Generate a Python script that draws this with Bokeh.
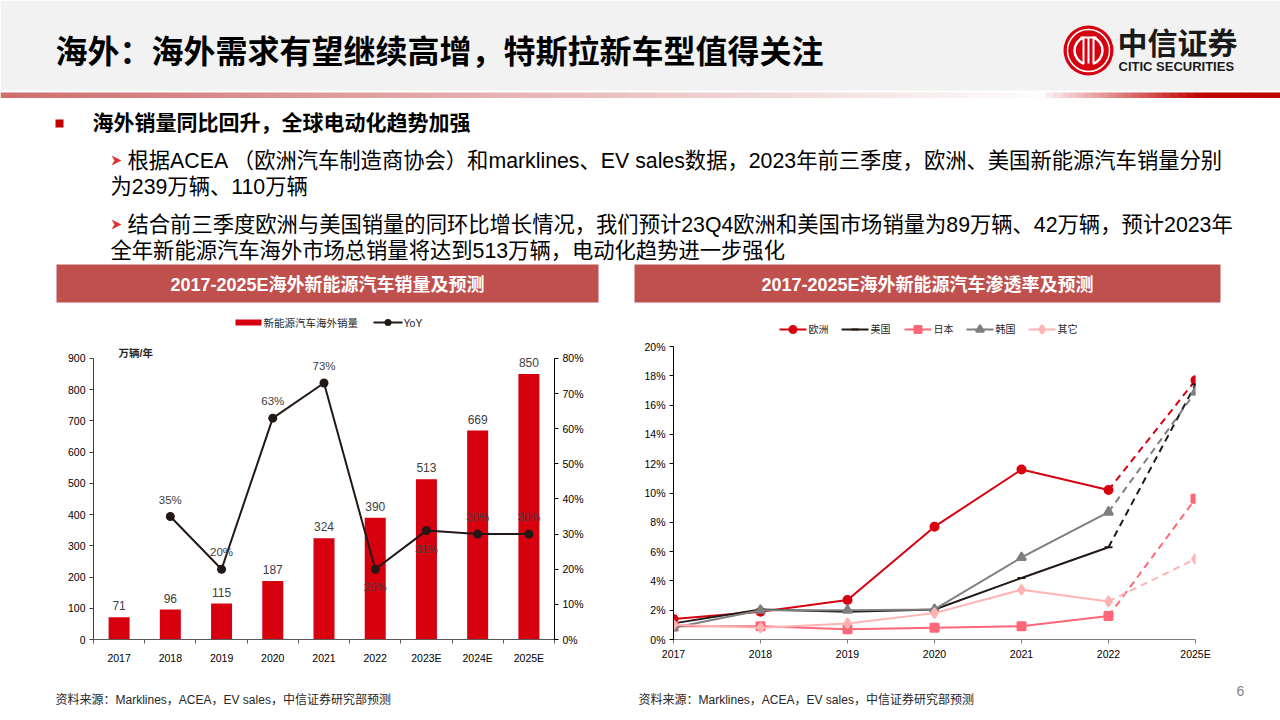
from bokeh.plotting import figure
from bokeh.models import Range1d, FixedTicker, LinearAxis, ColumnDataSource, LabelSet, Label, CustomJSTickFormatter
from bokeh.layouts import column, row
from bokeh.embed import file_html
from bokeh.resources import INLINE
from bokeh.core.properties import value

FONT = "Liberation Sans, Noto Sans CJK SC"

# ---------------- data ----------------
sales_years = ["2017", "2018", "2019", "2020", "2021", "2022", "2023E", "2024E", "2025E"]
sales = [71, 96, 115, 187, 324, 390, 513, 669, 850]          # 万辆/年
yoy_years = ["2018", "2019", "2020", "2021", "2022", "2023E", "2024E", "2025E"]
yoy = [35, 20, 63, 73, 20, 31, 30, 30]                       # %
yoy_label_side = ["above", "above", "above", "above", "below", "below", "above", "above"]

pen_years = ["2017", "2018", "2019", "2020", "2021", "2022", "2025E"]
pen_europe = [1.4, 1.9, 2.7, 7.7, 11.6, 10.2, 17.7]
pen_us = [1.1, 2.05, 1.9, 2.05, 4.2, 6.3, 17.4]
pen_japan = [0.9, 0.9, 0.7, 0.8, 0.9, 1.6, 9.6]
pen_korea = [0.8, 2.0, 2.0, 2.05, 5.6, 8.7, 16.9]
pen_other = [1.0, 0.8, 1.1, 1.8, 3.4, 2.6, 5.5]

series_names = ["欧洲", "美国", "日本", "韩国", "其它"]
series_values = [pen_europe, pen_us, pen_japan, pen_korea, pen_other]
series_colors = ["#D7000F", "#231815", "#FF6677", "#7F7F7F", "#FFB3B3"]
series_markers = ["circle", "dash", "square", "triangle", "diamond"]
series_msize = [8, 8, 8, 9, 10]

title = "海外：海外需求有望继续高增，特斯拉新车型值得关注"
headline = "海外销量同比回升，全球电动化趋势加强"
para1 = ["根据ACEA （欧洲汽车制造商协会）和marklines、EV  sales数据，2023年前三季度，欧洲、美国新能源汽车销量分别",
         "为239万辆、110万辆"]
para2 = ["结合前三季度欧洲与美国销量的同环比增长情况，我们预计23Q4欧洲和美国市场销量为89万辆、42万辆，预计2023年",
         "全年新能源汽车海外市场总销量将达到513万辆，电动化趋势进一步强化"]
chart1_title = "2017-2025E海外新能源汽车销量及预测"
chart2_title = "2017-2025E海外新能源汽车渗透率及预测"
bar_legend = "新能源汽车海外销量"
line_legend = "YoY"
unit_label = "万辆/年"
source_text = "资料来源：Marklines，ACEA，EV sales，中信证券研究部预测"
page_no = "6"


def blank(width, height, x0, x1, y0, y1):
    f = figure(width=width, height=height, x_range=Range1d(x0, x1), y_range=Range1d(y1, y0),
               toolbar_location=None, output_backend="svg", min_border=0,
               x_axis_type=None, y_axis_type=None)
    f.grid.visible = False
    f.outline_line_color = None
    return f


def txt(f, x, y, s, size, color="#000000", bold=False, align="left"):
    f.text(x=[x], y=[y], text=[s], text_font=value(FONT), text_font_size=size,
           text_font_style="bold" if bold else "normal", text_color=color,
           text_align=align, text_baseline="middle")


# ---------------- header (slide top) ----------------
ph = blank(1280, 338, 0, 1280, 0, 338)
ph.quad(left=0, right=1280, top=0, bottom=90, fill_color="#F2F2F2", line_color=None)

# gradient rule under the header
N = 70
for i in range(N):
    a = i / N
    l, r = a * 1045, (i + 1) / N * 1045 + 0.5
    c = tuple(int(v + (255 - v) * a) for v in (208, 110, 110))
    ph.quad(left=l, right=r, top=92, bottom=97.5, fill_color="#%02x%02x%02x" % c, line_color=None)
M = 30
for i in range(M):
    a = min(1.0, i / (M * 0.65))
    l, r = 1045 + i / M * 235, 1045 + (i + 1) / M * 235 + 0.5
    c = (int(250 + (192 - 250) * a), int(235 * (1 - a)), int(235 * (1 - a)))
    ph.quad(left=l, right=r, top=92, bottom=97.5, fill_color="#%02x%02x%02x" % c, line_color=None)

txt(ph, 55, 51, title, "32px", bold=True)

# logo
ph.circle(x=[1088], y=[50], radius=25, fill_color="#D7000F", line_color=None)
ph.circle(x=[1088], y=[50], radius=21, fill_color=None, line_color="white", line_width=1.5)
ph.arc(x=[1088, 1088], y=[50, 50], radius=14, start_angle=[1.9, -1.25], end_angle=[4.4, 1.25],
       line_color="white", line_width=2.5)
ph.segment(x0=[1083, 1088, 1093, 1080], y0=[37, 37, 37, 37], x1=[1083, 1088, 1093, 1096], y1=[63, 63, 63, 37],
           line_color="white", line_width=2)
txt(ph, 1117, 43, "中信证券", "30px", color="#1a1a1a", bold=True)
txt(ph, 1118, 66, "CITIC SECURITIES", "13px", color="#1a1a1a", bold=True)

# bullets
ph.scatter(x=[59], y=[123], marker="square", size=8, fill_color="#C00000", line_color=None)
txt(ph, 92, 122, headline, "21px", bold=True)
for yy in (160, 224):
    ph.patch(x=[111, 121, 111, 114], y=[yy - 5, yy, yy + 5, yy], fill_color="#E03030", line_color=None)
txt(ph, 127, 160, para1[0], "21.3px")
txt(ph, 110, 186, para1[1], "21.3px")
txt(ph, 127, 224, para2[0], "21.3px")
txt(ph, 110, 250, para2[1], "21.3px")

# chart title bars
ph.quad(left=56, right=598, top=264, bottom=302, fill_color="#C0504D", line_color=None)
ph.quad(left=634, right=1220, top=264, bottom=302, fill_color="#C0504D", line_color=None)
txt(ph, 327, 284, chart1_title, "18px", color="white", bold=True, align="center")
txt(ph, 927, 284, chart2_title, "18px", color="white", bold=True, align="center")

# legend of chart 1
ph.quad(left=235, right=261, top=319, bottom=325, fill_color="#D7000F", line_color=None)
txt(ph, 263, 322, bar_legend, "10.5px", color="#262626")
ph.line(x=[373, 402], y=[322, 322], line_color="#231815", line_width=2)
ph.scatter(x=[387.5], y=[322], marker="circle", size=7, fill_color="#231815", line_color=None)
txt(ph, 403, 322, line_legend, "10.5px", color="#262626")

# legend of chart 2
lx = [779, 841, 904, 966, 1028]
for k in range(5):
    ph.line(x=[lx[k], lx[k] + 27], y=[329, 329], line_color=series_colors[k], line_width=2)
    ph.scatter(x=[lx[k] + 13.5], y=[329], marker=series_markers[k], size=series_msize[k] - 1,
               fill_color=series_colors[k], line_color=series_colors[k], line_width=2)
    txt(ph, lx[k] + 29, 329, series_names[k], "10px", color="#262626")

# ---------------- chart 1: sales + YoY ----------------
SALES_MAX, PCT_MAX = 900, 80
EXT = 294 / 282   # frame is a bit taller than the axis so the unit label fits
pl = figure(width=616, height=334, x_range=Range1d(0, 9), y_range=Range1d(0, SALES_MAX * EXT),
            toolbar_location=None, output_backend="svg",
            min_border_left=93, min_border_right=62, min_border_top=7, min_border_bottom=33)
pl.grid.visible = False
pl.outline_line_color = None
pl.extra_y_ranges = {"pct": Range1d(0, PCT_MAX * EXT)}

xc = [i + 0.5 for i in range(len(sales_years))]
bar_src = ColumnDataSource(dict(x=xc, top=sales, label=[str(v) for v in sales]))
pl.vbar(x="x", top="top", width=0.41, source=bar_src, fill_color="#D7000F", line_color=None)
pl.add_layout(LabelSet(x="x", y="top", text="label", source=bar_src, y_offset=7,
                       text_align="center", text_baseline="bottom", text_font=value(FONT),
                       text_font_size="12px", text_color="#404040"))

yx = [sales_years.index(y) + 0.5 for y in yoy_years]
yoy_src = ColumnDataSource(dict(x=yx, y=yoy, label=["%d%%" % v for v in yoy],
                                dy=[17 if s == "above" else -18 for s in yoy_label_side]))
pl.line(x="x", y="y", source=yoy_src, y_range_name="pct", line_color="#231815", line_width=2)
pl.scatter(x="x", y="y", source=yoy_src, y_range_name="pct", marker="circle", size=9,
           fill_color="#231815", line_color=None)
pl.add_layout(LabelSet(x="x", y="y", text="label", source=yoy_src, y_range_name="pct", y_offset="dy",
                       text_align="center", text_baseline="middle", text_font=value(FONT),
                       text_font_size="11.5px", text_color="#404040"))

pl.xaxis.ticker = FixedTicker(ticks=xc, minor_ticks=list(range(len(sales_years) + 1)))
pl.xaxis.formatter = CustomJSTickFormatter(args=dict(labels=sales_years),
                                           code="return labels[Math.round(tick - 0.5)] || '';")
pl.xaxis.major_tick_in = 0
pl.xaxis.major_tick_out = 0
pl.xaxis.minor_tick_in = 0
pl.xaxis.minor_tick_out = 4
pl.xaxis.minor_tick_line_color = "#595959"
pl.xaxis.axis_line_color = "#595959"

pl.yaxis.ticker = FixedTicker(ticks=list(range(0, SALES_MAX + 1, 100)))
pl.yaxis.bounds = (0, SALES_MAX)
pl.yaxis.minor_tick_line_color = None
pl.yaxis.major_tick_in = 0
pl.yaxis.major_tick_out = 4
pl.yaxis.axis_line_color = "#404040"
pl.yaxis.major_tick_line_color = "#404040"

ra = LinearAxis(y_range_name="pct", ticker=FixedTicker(ticks=list(range(0, PCT_MAX + 1, 10))),
                bounds=(0, PCT_MAX))
ra.major_label_overrides = {v: "%d%%" % v for v in range(0, PCT_MAX + 1, 10)}
ra.minor_tick_line_color = None
ra.major_tick_in = 0
ra.major_tick_out = 4
ra.axis_line_color = "#000000"
pl.add_layout(ra, "right")

for ax in (pl.xaxis[0], pl.yaxis[0], ra):
    ax.major_label_text_font = FONT
    ax.major_label_text_font_size = "10.5px"
    ax.major_label_text_color = "#000000"
    ax.major_label_standoff = 4
pl.xaxis.major_label_standoff = 8

pl.add_layout(Label(x=0.49, y=SALES_MAX, y_offset=5, text=unit_label, text_font=FONT, text_font_size="10.5px",
                    text_font_style="bold", text_color="#262626", text_baseline="middle"))

# ---------------- chart 2: penetration ----------------
pr = figure(width=664, height=334, x_range=Range1d(0, 6), y_range=Range1d(0, 20),
            toolbar_location=None, output_backend="svg",
            min_border_left=57, min_border_right=85, min_border_top=8, min_border_bottom=33)
pr.grid.visible = False
pr.outline_line_color = None

px = list(range(len(pen_years)))
for k in range(5):
    vals = series_values[k]
    pr.line(x=px[:6], y=vals[:6], line_color=series_colors[k], line_width=2)
    pr.line(x=px[5:], y=vals[5:], line_color=series_colors[k], line_width=2, line_dash="7 5")
    pr.scatter(x=px, y=vals, marker=series_markers[k], size=series_msize[k],
               fill_color=series_colors[k], line_color=series_colors[k], line_width=2)

pr.xaxis.ticker = FixedTicker(ticks=px)
pr.xaxis.formatter = CustomJSTickFormatter(args=dict(labels=pen_years),
                                           code="return labels[Math.round(tick)] || '';")
pr.xaxis.major_tick_in = 0
pr.xaxis.major_tick_out = 4
pr.xaxis.minor_tick_line_color = None
pr.xaxis.axis_line_color = "#7F7F7F"
pr.xaxis.major_tick_line_color = "#7F7F7F"
pr.yaxis.ticker = FixedTicker(ticks=list(range(0, 21, 2)))
pr.yaxis.major_label_overrides = {v: "%d%%" % v for v in range(0, 21, 2)}
pr.yaxis.minor_tick_line_color = None
pr.yaxis.major_tick_in = 0
pr.yaxis.major_tick_out = 4
pr.yaxis.axis_line_color = "#000000"
for ax in (pr.xaxis[0], pr.yaxis[0]):
    ax.major_label_text_font = FONT
    ax.major_label_text_font_size = "10.5px"
    ax.major_label_text_color = "#000000"
    ax.major_label_standoff = 4

# ---------------- footer ----------------
pf = blank(1280, 48, 0, 1280, 672, 720)
txt(pf, 55, 699, source_text, "12px", color="#262626")
txt(pf, 638, 699, source_text, "12px", color="#262626")
txt(pf, 1240, 690, page_no, "14px", color="#7F7F7F", align="center")

layout = column(ph, row(pl, pr), pf)
open("out.html", "w").write(file_html(layout, INLINE))
